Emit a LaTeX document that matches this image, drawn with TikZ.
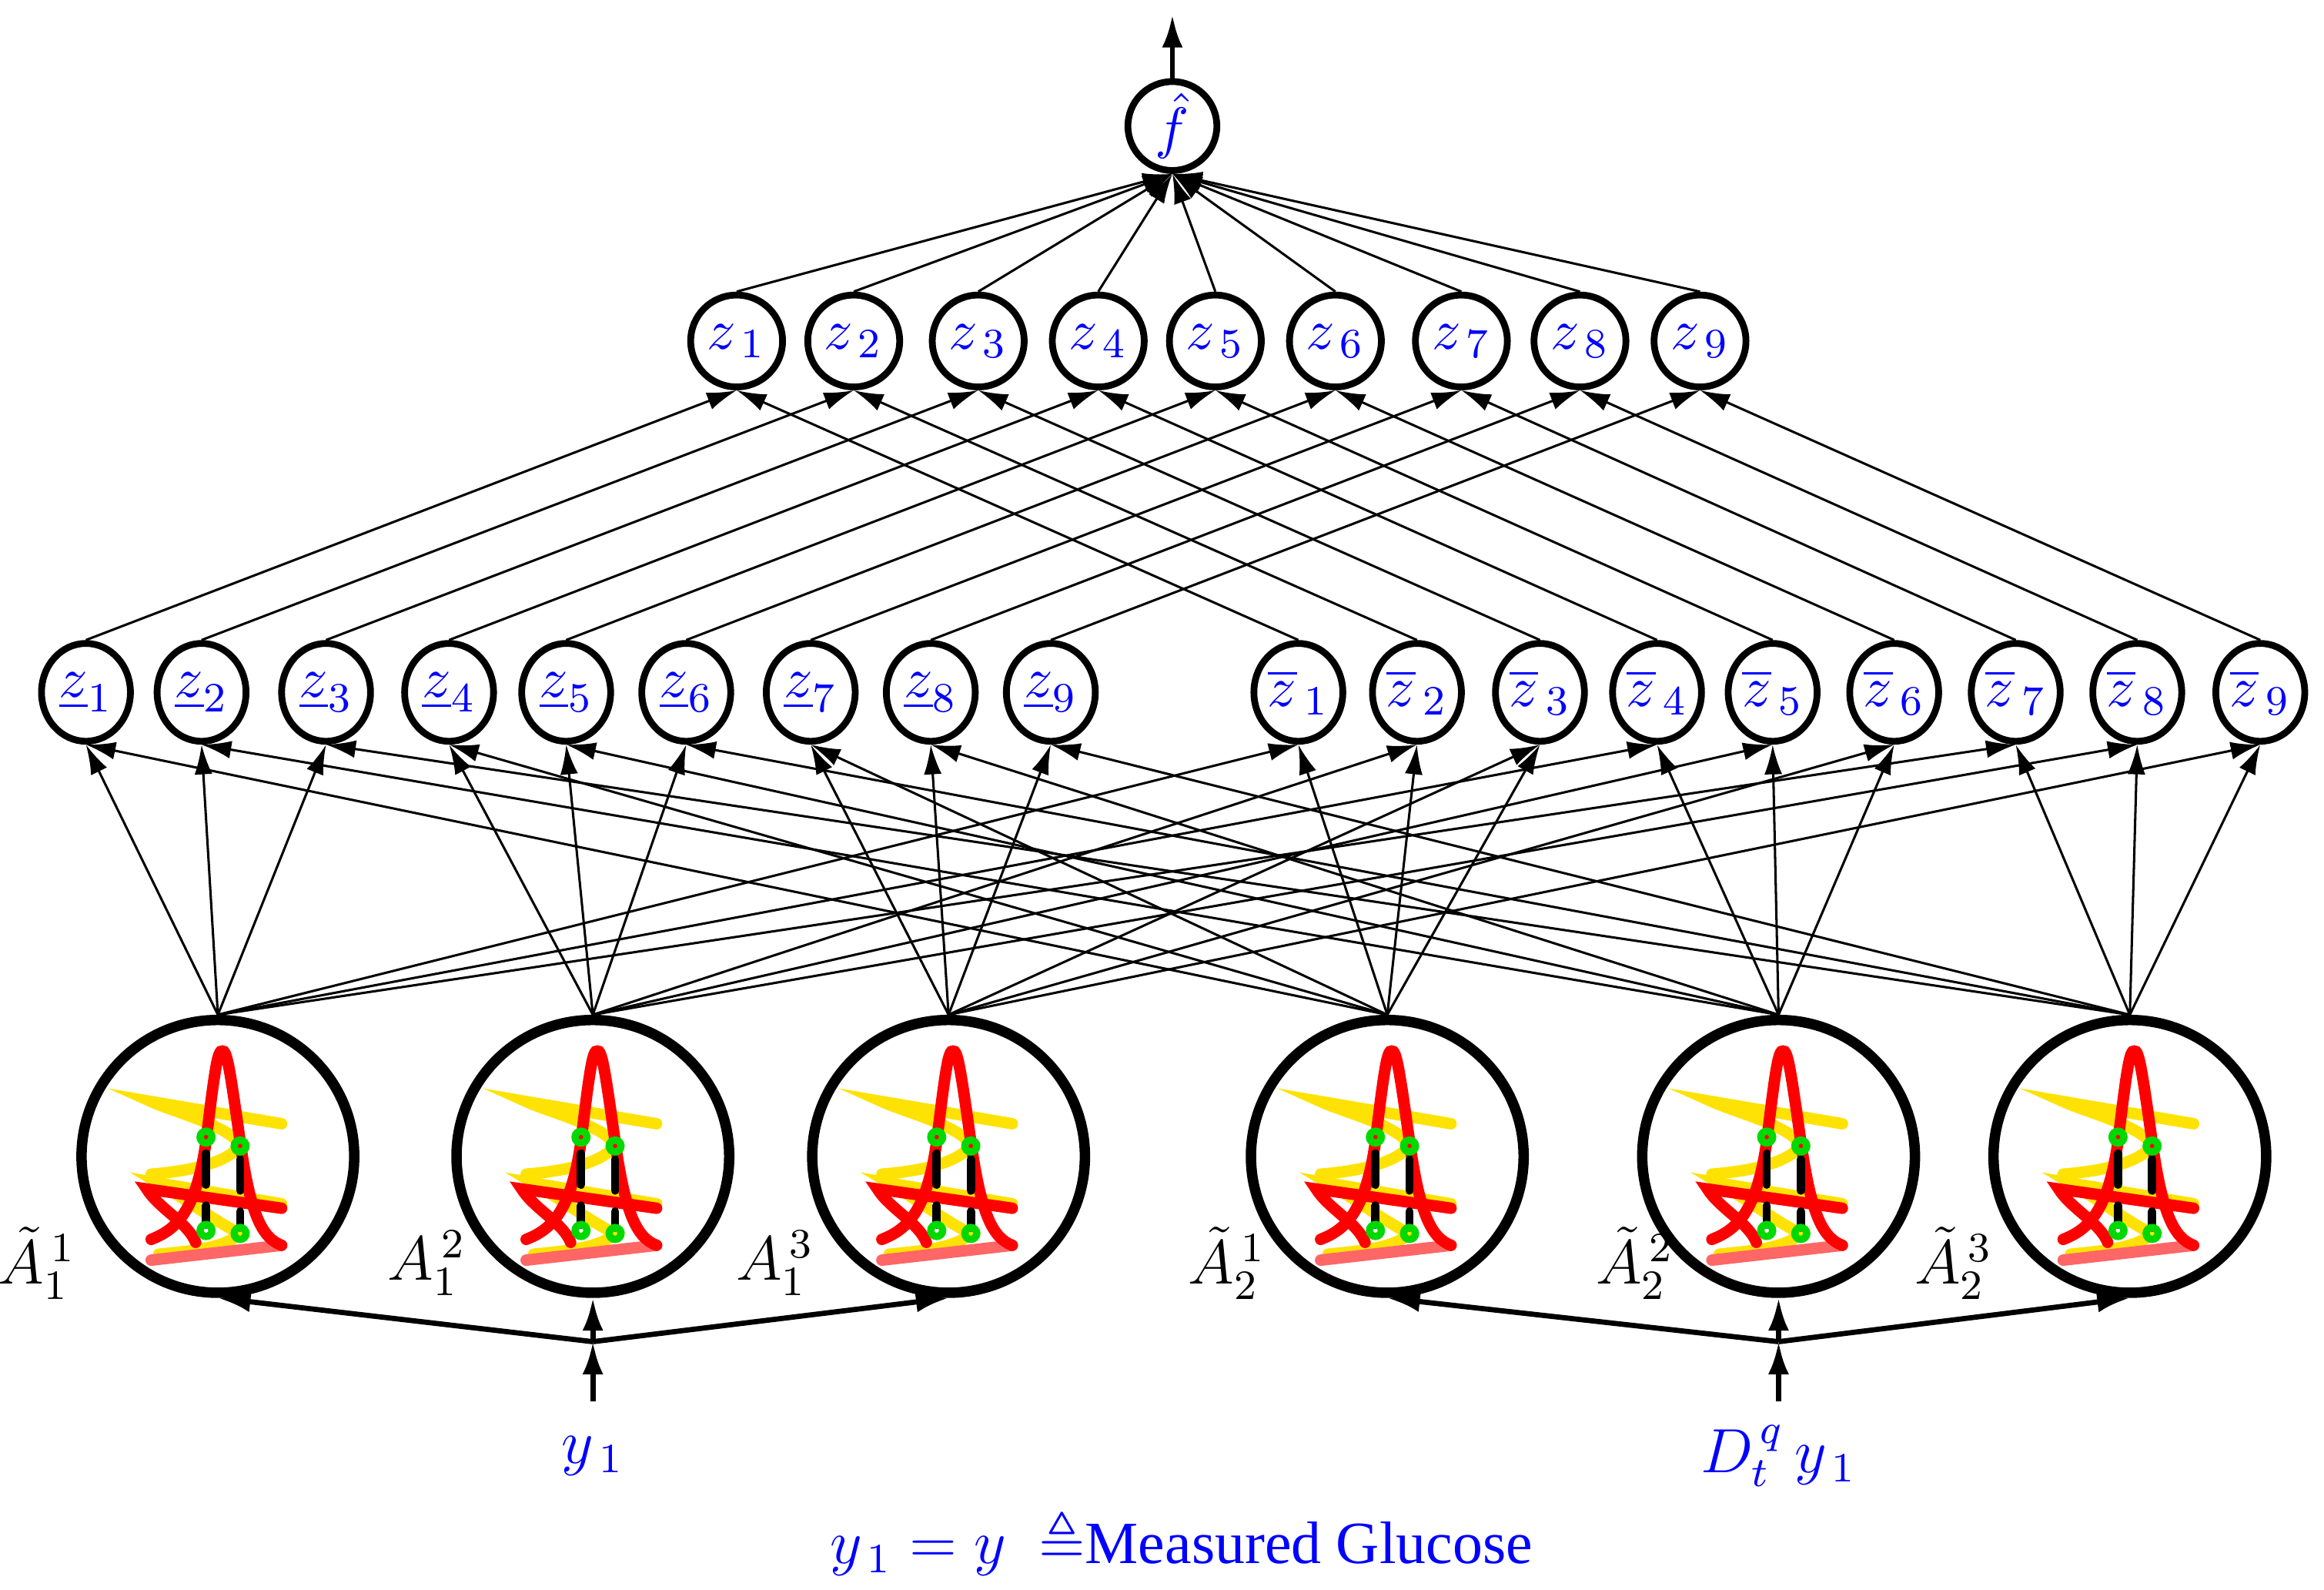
\documentclass[tikz,border=0pt]{standalone}
\usepackage{amssymb}
\usepackage{fontspec}
\setmainfont{Liberation Serif}
\usetikzlibrary{arrows.meta,shapes.geometric}

\tikzset{
  unit/.style={circle,draw,line width=1.3pt,minimum size=6.2mm,inner sep=0pt,text=blue,font=\fontsize{11}{13}\selectfont},
  firing/.style={ellipse,draw,line width=1.3pt,minimum width=6mm,minimum height=6.6mm,inner sep=0pt,text=blue,font=\fontsize{11}{13}\selectfont},
  mf/.style={circle,draw,line width=2pt,minimum size=18.4mm,inner sep=0pt},
  link/.style={-{Latex[length=2mm,width=1.2mm]},line width=0.45pt},
  feed/.style={-{Latex[length=2.2mm,width=1.4mm]},line width=1pt},
  lbl/.style={font=\fontsize{11.5}{13}\selectfont},
}

% membership functions drawn inside one input circle
\newcommand{\mfglyph}[1]{%
  \begin{scope}[shift={(#1)},line cap=round]
    \draw[yellow!85!orange,line width=2.2pt] (43,-22) -- (-45,-37) .. controls (-30,-30) and (10,-20) .. (15,-7)
      .. controls (5,5) and (-20,10) .. (-45,12);
    \draw[yellow!85!orange,line width=2.2pt] (43,32) -- (-40,18) .. controls (-20,30) and (0,45) .. (15,52)
      .. controls (5,62) and (-20,64) .. (-40,66);
    \draw[red!60,line width=2.2pt] (-45,70) -- (43,60);
    \draw[red,line width=2.2pt] (-45,56) .. controls (-30,50) and (-15,40) .. (-8,-10)
      .. controls (-2,-60) and (0,-72) .. (3,-71) .. controls (6,-72) and (8,-60) .. (15,-10)
      .. controls (22,40) and (30,55) .. (43,60);
    \draw[red,line width=2.2pt] (43,35) -- (-48,22) .. controls (-40,35) and (-20,45) .. (-15,58);
    \draw[black,line width=1.6pt,dashed,dash pattern=on 6pt off 4pt] (-8,-2) -- (-8,46) (15,2) -- (15,48);
    \foreach \p in {(-8,-13),(15,-7),(-8,50),(15,52)}
      \draw[green!85!black,line width=1.4pt] \p circle (4);
  \end{scope}}

\begin{document}
\begin{tikzpicture}[x=0.1mm,y=-0.1mm]
  \useasboundingbox (0,0) rectangle (1568,1072);

  % output
  \node[unit,minimum size=6mm] (fh) at (791,85) {$\hat{f}$};
  \coordinate (out) at (791,10);
  \draw[feed] (fh.north) -- (out);

  % normalised firing strengths
  \foreach \x [count=\k] in {497,576,660,741,820,901,986,1066,1147}
    \node[unit] (zt\k) at (\x,230) {$z_{\,\k}$};

  % lower and upper firing strengths
  \foreach \x [count=\k] in {58,136,220,303,382,463,547,628,709}
    \node[firing] (zl\k) at (\x,467) {$\underline{z}_{\k}$};
  \foreach \x [count=\k] in {876,956,1039,1118,1196,1278,1360,1442,1525}
    \node[firing] (zu\k) at (\x,467) {$\overline{z}_{\,\k}$};

  % fuzzy sets
  \node[mf] (A11) at (147,780) {};
  \node[mf] (A12) at (400,780) {};
  \node[mf] (A13) at (640,780) {};
  \node[mf] (A21) at (936,780) {};
  \node[mf] (A22) at (1200,780) {};
  \node[mf] (A23) at (1437,780) {};
  \foreach \n in {A11,A12,A13,A21,A22,A23}
    \mfglyph{\n};

  \node[lbl] at (25,852) {$\tilde{A}_1^{\,1}$};
  \node[lbl] at (288,852) {$A_1^{\,2}$};
  \node[lbl] at (523,852) {$A_1^{\,3}$};
  \node[lbl] at (828,852) {$\tilde{A}_2^{\,1}$};
  \node[lbl] at (1103,852) {$\tilde{A}_2^{\,2}$};
  \node[lbl] at (1318,852) {$\tilde{A}_2^{\,3}$};

  % rule layer links
  \foreach \i in {1,2,3}
    \foreach \j in {1,2,3} {
      \pgfmathtruncatemacro{\r}{3*(\i-1)+\j}
      \draw[link] (A1\i.north) -- (zl\r.south);
      \draw[link] (A2\j.north) -- (zl\r.south);
      \draw[link] (A2\i.north) -- (zu\r.south);
      \draw[link] (A1\j.north) -- (zu\r.south);
    }
  \foreach \k in {1,...,9} {
    \draw[link] (zl\k.north) -- (zt\k.south);
    \draw[link] (zu\k.north) -- (zt\k.south);
    \draw[link] (zt\k.north) -- (fh.south);
  }

  % inputs
  \node[lbl,text=blue] (y1) at (400,982) {$y_{\,1}$};
  \node[lbl,text=blue] (dy) at (1200,982) {$D_t^{\,q}\,y_{\,1}$};
  \coordinate (s1) at (400,945);
  \coordinate (j1) at (400,905);
  \coordinate (s2) at (1200,945);
  \coordinate (j2) at (1200,905);
  \draw[feed] (s1) -- (j1);
  \draw[feed] (s2) -- (j2);
  \foreach \n in {A11,A12,A13} \draw[feed] (j1) -- (\n.south);
  \foreach \n in {A21,A22,A23} \draw[feed] (j2) -- (\n.south);

  \node[lbl,text=blue] (note) at (797,1040) {$y_{\,1}=y\ \triangleq$Measured Glucose};
\end{tikzpicture}
\end{document}
